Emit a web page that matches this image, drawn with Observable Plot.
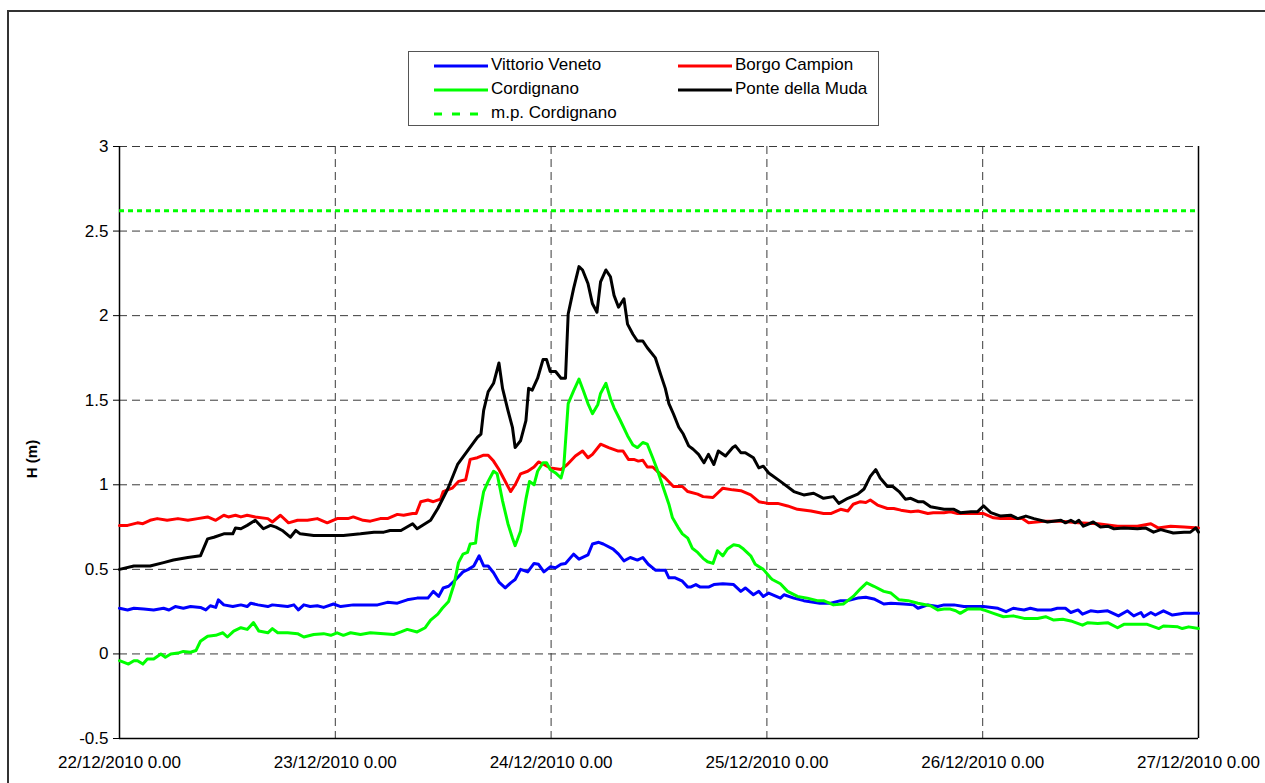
<!DOCTYPE html>
<html><head><meta charset="utf-8">
<script src="https://cdn.jsdelivr.net/npm/d3@7"></script>
<script src="https://cdn.jsdelivr.net/npm/@observablehq/plot@0.6"></script>
<style>
html,body{margin:0;padding:0;background:#fff;overflow:hidden;}
body{width:1265px;height:783px;position:relative;font-family:"Liberation Sans",Arial,sans-serif;}
#frame{position:absolute;left:7px;top:10px;width:1320px;height:820px;border:2px solid #333;box-sizing:border-box;}
#chart{position:absolute;left:0;top:0;}
#legend{position:absolute;left:408px;top:51px;width:471px;height:75px;border:1.5px solid #555;box-sizing:border-box;background:#fff;}
.item{position:absolute;font-size:17px;color:#000;white-space:nowrap;line-height:19px;}
.sw{position:absolute;}
#ylab{position:absolute;left:31px;top:459px;transform:translate(-50%,-50%) rotate(-90deg);font-weight:bold;font-size:15px;white-space:nowrap;}
</style></head>
<body>
<div id="frame"></div>
<div id="chart"></div>
<div id="legend"></div>
<div id="ylab">H (m)</div>
<script>
// ---- data (hours since 22/12/2010 0.00, water level H in m) ----
const startDate = Date.UTC(2010, 11, 22);
const seriesNames = ["Vittorio Veneto", "Borgo Campion", "Cordignano", "Ponte della Muda"];
const seriesColors = ["#0000ff", "#ff0000", "#00ff00", "#000000"];
const mpName = "m.p. Cordignano";
const mpCordignano = 2.62;

const vittorioVeneto = [[0,0.27],[0.9,0.26],[1.6,0.27],[2.7,0.265],[3.8,0.26],[4.9,0.27],[5.5,0.26],[6.2,0.28],[7.1,0.27],[7.9,0.28],[9.0,0.275],[9.6,0.26],[10.1,0.285],[10.7,0.275],[11.0,0.32],[11.6,0.29],[12.6,0.28],[13.5,0.29],[14.2,0.28],[14.6,0.30],[15.4,0.29],[16.5,0.28],[17.0,0.29],[17.9,0.285],[18.7,0.28],[19.4,0.29],[19.9,0.26],[20.5,0.29],[21.2,0.28],[22.0,0.285],[22.7,0.275],[23.8,0.295],[24.6,0.28],[26.0,0.29],[27.6,0.29],[28.7,0.29],[29.8,0.305],[30.9,0.30],[32.0,0.32],[33.1,0.33],[34.3,0.33],[34.9,0.37],[35.5,0.34],[36.0,0.39],[36.6,0.40],[37.4,0.44],[38.2,0.485],[38.8,0.50],[39.4,0.52],[40.0,0.58],[40.5,0.52],[41.0,0.52],[41.6,0.48],[42.2,0.425],[42.9,0.39],[43.5,0.42],[44.0,0.44],[44.6,0.50],[45.4,0.485],[46.1,0.535],[46.6,0.53],[47.2,0.485],[47.9,0.515],[48.5,0.51],[49.1,0.53],[49.6,0.535],[50.5,0.59],[51.1,0.56],[52.1,0.585],[52.6,0.65],[53.3,0.66],[53.8,0.65],[54.9,0.62],[55.5,0.59],[56.1,0.55],[56.8,0.57],[57.6,0.555],[58.2,0.57],[58.8,0.53],[59.6,0.495],[60.7,0.495],[61.1,0.45],[61.8,0.45],[62.6,0.43],[63.2,0.395],[63.5,0.395],[64.1,0.41],[64.6,0.395],[65.5,0.395],[66.1,0.41],[67.1,0.415],[68.3,0.41],[69.1,0.37],[69.6,0.39],[70.5,0.35],[71.1,0.37],[71.6,0.34],[72.2,0.36],[73.5,0.33],[73.9,0.35],[75.0,0.33],[76.1,0.315],[77.9,0.30],[79.1,0.30],[80.2,0.315],[81.0,0.315],[82.1,0.33],[83.0,0.335],[83.9,0.325],[85.0,0.295],[85.8,0.30],[87.2,0.295],[88.3,0.29],[88.8,0.27],[89.9,0.29],[91.0,0.28],[91.7,0.29],[92.8,0.29],[93.9,0.28],[95.0,0.28],[96.1,0.28],[97.7,0.27],[98.6,0.25],[99.4,0.27],[100.6,0.26],[101.3,0.27],[102.1,0.26],[103.6,0.26],[104.3,0.27],[105.2,0.27],[105.8,0.245],[106.6,0.26],[107.1,0.235],[108.0,0.255],[108.8,0.25],[109.9,0.255],[111.1,0.225],[112.1,0.255],[112.8,0.225],[113.6,0.245],[113.9,0.22],[114.7,0.245],[115.2,0.23],[116.1,0.255],[117.1,0.23],[118.4,0.24],[120,0.24]];

const borgoCampion = [[0,0.76],[0.9,0.76],[2.0,0.775],[2.6,0.77],[3.4,0.79],[4.2,0.80],[5.3,0.79],[6.5,0.80],[7.6,0.79],[8.7,0.80],[9.8,0.81],[10.7,0.79],[11.6,0.82],[12.1,0.81],[12.9,0.82],[13.5,0.81],[14.2,0.82],[15.1,0.81],[16.5,0.80],[17.0,0.78],[17.9,0.82],[18.8,0.775],[19.8,0.79],[20.9,0.79],[22.0,0.80],[23.1,0.775],[24.2,0.80],[25.4,0.80],[26.0,0.81],[27.1,0.79],[27.9,0.785],[29.0,0.80],[29.8,0.80],[30.9,0.825],[31.6,0.82],[32.6,0.83],[33.0,0.83],[33.5,0.90],[34.3,0.91],[34.9,0.90],[35.7,0.915],[36.0,0.96],[37.0,0.98],[37.7,1.02],[38.5,1.03],[39.0,1.15],[39.8,1.16],[40.5,1.175],[41.0,1.175],[41.6,1.14],[42.2,1.09],[42.7,1.04],[43.5,0.96],[44.0,1.00],[44.6,1.065],[45.4,1.08],[46.1,1.105],[46.6,1.135],[47.2,1.12],[47.9,1.10],[49.1,1.09],[49.8,1.12],[50.7,1.17],[51.5,1.20],[52.1,1.16],[52.6,1.18],[53.5,1.24],[54.4,1.22],[55.4,1.20],[56.0,1.20],[56.6,1.15],[57.2,1.15],[57.7,1.14],[58.2,1.145],[58.7,1.105],[59.3,1.105],[59.8,1.08],[60.7,1.04],[61.6,0.99],[62.6,0.99],[63.2,0.96],[64.3,0.945],[64.9,0.93],[66.0,0.925],[66.5,0.95],[67.1,0.98],[68.2,0.97],[69.1,0.965],[70.2,0.94],[71.1,0.90],[72.1,0.89],[73.2,0.89],[74.3,0.875],[75.4,0.855],[76.9,0.845],[78.3,0.83],[79.1,0.83],[80.2,0.855],[81.0,0.845],[81.6,0.885],[82.4,0.90],[83.0,0.895],[83.5,0.91],[84.3,0.88],[85.4,0.86],[86.1,0.86],[86.9,0.85],[88.0,0.84],[88.8,0.845],[89.9,0.83],[90.5,0.835],[91.7,0.835],[92.4,0.84],[93.2,0.83],[94.7,0.83],[96.1,0.83],[97.2,0.805],[98.0,0.80],[99.1,0.80],[100.4,0.80],[101.1,0.775],[102.8,0.785],[104.7,0.785],[106.6,0.775],[108.8,0.77],[111.0,0.755],[113.2,0.755],[114.7,0.77],[115.5,0.745],[116.9,0.755],[118.4,0.75],[120,0.745]];

const cordignano = [[0,-0.04],[1.0,-0.06],[1.6,-0.04],[2.0,-0.04],[2.6,-0.06],[3.1,-0.03],[3.8,-0.03],[4.6,0.0],[5.1,-0.02],[5.7,0.0],[6.5,0.005],[7.1,0.015],[7.9,0.01],[8.5,0.02],[9.0,0.075],[9.8,0.105],[10.7,0.11],[11.5,0.125],[12.0,0.10],[12.7,0.135],[13.5,0.155],[14.2,0.145],[14.9,0.185],[15.5,0.135],[16.5,0.125],[17.0,0.15],[17.6,0.125],[18.7,0.125],[19.8,0.12],[20.5,0.10],[21.6,0.115],[22.7,0.12],[23.5,0.11],[24.2,0.125],[24.9,0.11],[25.7,0.125],[26.8,0.115],[27.9,0.125],[29.4,0.12],[30.5,0.115],[31.3,0.13],[32.0,0.145],[33.1,0.13],[34.0,0.155],[34.6,0.20],[35.4,0.235],[35.9,0.27],[36.6,0.31],[37.2,0.41],[37.7,0.54],[38.2,0.59],[38.7,0.60],[39.0,0.65],[39.6,0.655],[39.9,0.785],[40.5,0.96],[41.0,1.02],[41.6,1.08],[42.0,1.065],[42.6,0.905],[43.2,0.77],[43.7,0.685],[44.0,0.64],[44.6,0.725],[45.2,0.915],[45.6,1.02],[46.1,1.00],[46.5,1.08],[47.1,1.13],[47.5,1.13],[47.9,1.09],[48.5,1.07],[49.1,1.04],[49.4,1.10],[49.9,1.48],[50.5,1.555],[51.1,1.625],[51.6,1.555],[52.1,1.48],[52.6,1.42],[53.2,1.475],[53.5,1.54],[54.1,1.60],[54.6,1.51],[55.0,1.455],[55.7,1.38],[56.5,1.29],[57.1,1.235],[57.6,1.22],[58.2,1.25],[58.7,1.24],[59.3,1.16],[59.8,1.09],[60.5,0.98],[61.1,0.885],[61.5,0.805],[62.1,0.75],[62.6,0.71],[63.2,0.685],[63.7,0.625],[64.3,0.60],[64.9,0.565],[65.4,0.545],[66.0,0.535],[66.5,0.61],[67.1,0.58],[67.6,0.62],[68.3,0.645],[68.9,0.64],[69.4,0.62],[70.2,0.58],[70.7,0.53],[71.6,0.50],[72.4,0.45],[72.6,0.44],[73.5,0.415],[74.3,0.37],[75.4,0.34],[76.5,0.33],[77.6,0.315],[78.3,0.315],[79.4,0.29],[80.5,0.295],[81.6,0.34],[82.4,0.385],[83.1,0.42],[83.9,0.40],[85.0,0.37],[85.8,0.36],[86.7,0.32],[87.7,0.315],[88.8,0.30],[90.2,0.285],[91.0,0.26],[91.7,0.265],[92.4,0.265],[93.0,0.255],[93.5,0.24],[94.3,0.265],[95.8,0.265],[96.1,0.26],[97.2,0.24],[98.3,0.22],[99.4,0.225],[100.6,0.21],[102.1,0.21],[103.0,0.22],[103.9,0.20],[104.9,0.205],[105.8,0.195],[107.1,0.17],[107.7,0.185],[108.8,0.18],[109.9,0.185],[111.0,0.155],[111.7,0.175],[113.2,0.175],[114.3,0.175],[115.6,0.15],[116.1,0.165],[117.7,0.16],[118.2,0.15],[118.9,0.16],[120,0.15]];

const ponteDellaMuda = [[0,0.50],[1.6,0.52],[3.4,0.52],[4.9,0.54],[6.0,0.555],[7.6,0.57],[9.0,0.58],[9.8,0.68],[10.5,0.69],[11.6,0.71],[12.6,0.71],[12.9,0.745],[13.5,0.74],[14.2,0.76],[15.1,0.79],[16.0,0.74],[16.8,0.76],[17.4,0.75],[18.1,0.73],[19.0,0.69],[19.6,0.73],[20.1,0.71],[21.6,0.70],[23.8,0.70],[24.9,0.70],[26.8,0.71],[28.3,0.72],[29.4,0.72],[30.1,0.73],[31.3,0.73],[32.6,0.77],[33.1,0.74],[34.6,0.79],[35.4,0.86],[36.5,0.975],[37.6,1.12],[38.7,1.20],[39.8,1.28],[40.2,1.30],[40.5,1.44],[41.0,1.55],[41.6,1.60],[42.2,1.72],[42.6,1.57],[43.2,1.44],[43.7,1.34],[44.0,1.22],[44.6,1.26],[45.2,1.38],[45.5,1.57],[45.9,1.56],[46.5,1.63],[47.1,1.74],[47.5,1.74],[47.9,1.67],[48.5,1.67],[49.1,1.63],[49.6,1.63],[49.9,2.01],[50.5,2.16],[51.1,2.29],[51.5,2.27],[52.1,2.19],[52.6,2.07],[53.1,2.02],[53.5,2.20],[54.1,2.27],[54.6,2.23],[55.0,2.12],[55.5,2.05],[56.1,2.10],[56.5,1.95],[57.1,1.89],[57.6,1.85],[58.2,1.85],[58.7,1.81],[59.6,1.75],[60.2,1.65],[60.7,1.57],[61.1,1.48],[61.6,1.42],[62.2,1.34],[62.7,1.30],[63.3,1.23],[63.8,1.21],[64.4,1.18],[65.0,1.13],[65.5,1.18],[66.1,1.12],[66.6,1.20],[67.4,1.17],[68.2,1.22],[68.5,1.23],[69.1,1.19],[69.6,1.19],[70.5,1.16],[71.1,1.10],[71.6,1.11],[72.2,1.07],[73.5,1.02],[75.0,0.96],[76.1,0.94],[77.2,0.95],[78.3,0.92],[79.4,0.93],[80.0,0.89],[81.0,0.92],[82.1,0.945],[82.8,0.975],[83.5,1.05],[84.1,1.09],[84.6,1.04],[85.4,0.99],[86.0,0.99],[86.7,0.96],[87.4,0.915],[88.0,0.92],[88.8,0.90],[89.4,0.90],[90.2,0.87],[91.7,0.855],[92.8,0.855],[93.5,0.835],[94.7,0.84],[95.4,0.84],[96.1,0.875],[96.9,0.835],[98.0,0.815],[99.1,0.82],[99.9,0.80],[100.8,0.815],[101.7,0.80],[103.2,0.78],[104.7,0.79],[105.2,0.775],[105.8,0.79],[106.3,0.775],[106.7,0.79],[107.2,0.755],[108.3,0.78],[109.1,0.75],[109.9,0.755],[110.6,0.74],[111.7,0.745],[113.2,0.74],[114.1,0.745],[115.0,0.72],[115.8,0.735],[117.2,0.715],[118.4,0.72],[119.1,0.72],[119.7,0.745],[120,0.72]];

const dayTicks = ["2010-12-22","2010-12-23","2010-12-24","2010-12-25","2010-12-26","2010-12-27"];
const yTicks = [-0.5, 0, 0.5, 1, 1.5, 2, 2.5, 3];

// ---- build ----
const allSeries = [vittorioVeneto, borgoCampion, cordignano, ponteDellaMuda];
const toDate = h => new Date(startDate + h * 3600e3);
const rows = allSeries.flatMap((arr, i) => arr.map(([h, v]) => ({t: toDate(h), v, name: seriesNames[i]})));
const days = dayTicks.map(s => new Date(s + "T00:00:00Z"));
const pad = n => String(n).padStart(2, "0");
const fmtDay = d => `${pad(d.getUTCDate())}/${pad(d.getUTCMonth() + 1)}/${d.getUTCFullYear()} 0.00`;

const chart = Plot.plot({
  width: 1265, height: 783,
  marginLeft: 119, marginRight: 67, marginTop: 146, marginBottom: 45,
  style: {fontFamily: "'Liberation Sans', Arial, sans-serif", fontSize: "17px", color: "#000", background: "transparent", overflow: "visible"},
  x: {type: "utc", domain: [days[0], days[days.length - 1]]},
  y: {domain: [-0.5, 3]},
  color: {domain: seriesNames, range: seriesColors},
  marks: [
    Plot.gridY(yTicks.slice(1), {stroke: "#3a3a3a", strokeOpacity: 1, strokeWidth: 1, strokeDasharray: "8,5"}),
    Plot.gridX(days.slice(1, -1), {stroke: "#3a3a3a", strokeOpacity: 1, strokeWidth: 1, strokeDasharray: "8,5"}),
    Plot.ruleX([days[0], days[days.length - 1]], {stroke: "#000", strokeWidth: 1.5}),
    Plot.ruleY([-0.5], {stroke: "#000", strokeWidth: 1.5}),
    Plot.axisY(yTicks, {tickSize: 6, tickPadding: 5, tickFormat: d => String(d), label: null, fontSize: 17}),
    Plot.axisX(days, {tickSize: 0, tickPadding: 17, tickFormat: fmtDay, label: null, fontSize: 17}),
    Plot.ruleY([mpCordignano], {stroke: "#00ff00", strokeWidth: 3, strokeDasharray: "5,4"}),
    Plot.line(rows, {x: "t", y: "v", z: "name", stroke: "name", strokeWidth: 3, strokeLinejoin: "round", curve: "linear"})
  ]
});
document.getElementById("chart").appendChild(chart);

// ---- legend ----
const legend = document.getElementById("legend");
const legendItems = seriesNames.map((n, i) => ({name: n, color: seriesColors[i], dash: null}))
  .concat([{name: mpName, color: "#00ff00", dash: "8,10"}]);
legendItems.forEach((it, i) => {
  const col = i % 2, row = Math.floor(i / 2);
  const sw = document.createElementNS("http://www.w3.org/2000/svg", "svg");
  sw.setAttribute("width", 56); sw.setAttribute("height", 6);
  sw.setAttribute("class", "sw");
  sw.style.left = (24 + col * 244) + "px";
  sw.style.top = (11 + row * 24) + "px";
  const ln = document.createElementNS("http://www.w3.org/2000/svg", "line");
  ln.setAttribute("x1", 1); ln.setAttribute("x2", 55); ln.setAttribute("y1", 3); ln.setAttribute("y2", 3);
  ln.setAttribute("stroke", it.color); ln.setAttribute("stroke-width", 3);
  if (it.dash) ln.setAttribute("stroke-dasharray", it.dash);
  sw.appendChild(ln);
  legend.appendChild(sw);
  const tx = document.createElement("div");
  tx.className = "item";
  tx.textContent = it.name;
  tx.style.left = (82 + col * 244) + "px";
  tx.style.top = (3 + row * 24) + "px";
  legend.appendChild(tx);
});
</script>
</body></html>
